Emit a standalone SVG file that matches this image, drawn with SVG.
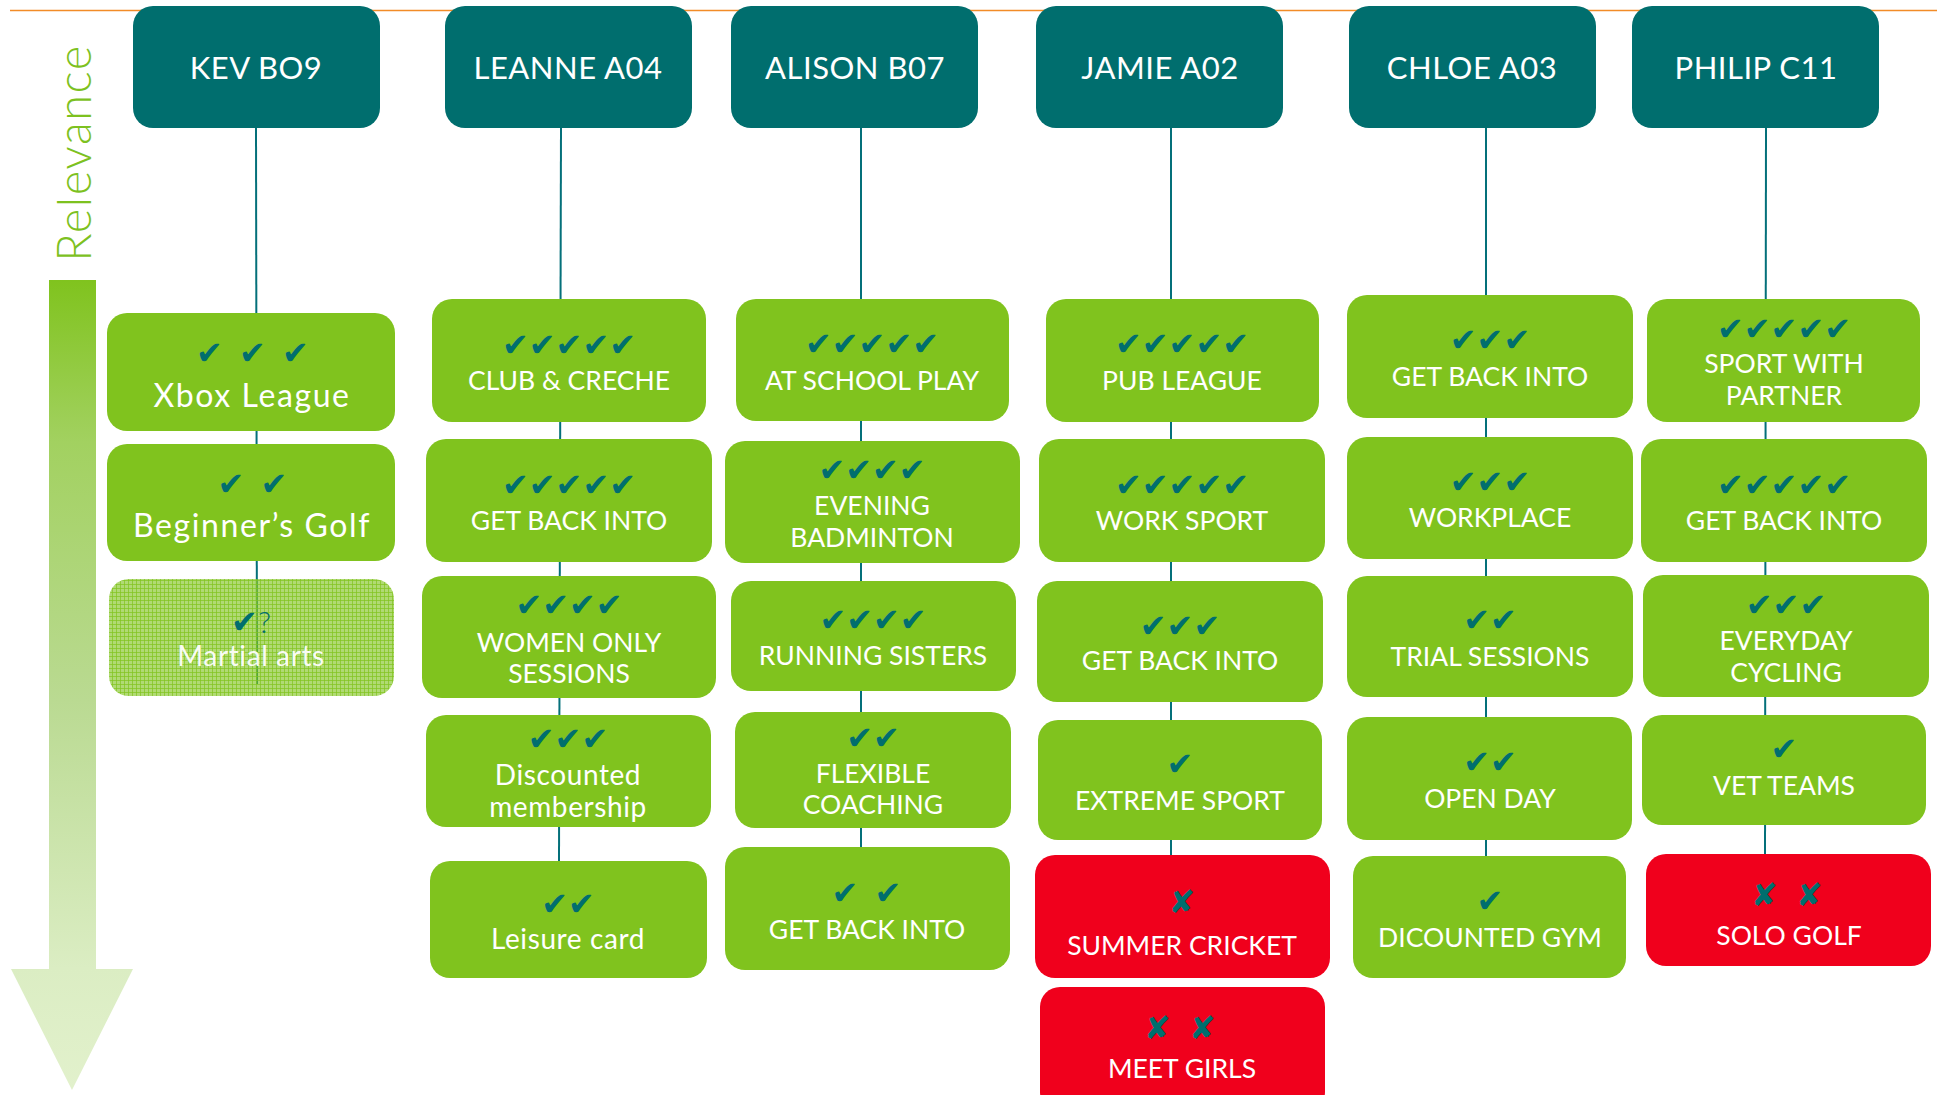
<svg xmlns="http://www.w3.org/2000/svg" width="1937" height="1095" viewBox="0 0 1937 1095">
  <defs>
    <linearGradient id="relevanceFade" x1="0" y1="280" x2="0" y2="1090" gradientUnits="userSpaceOnUse">
      <stop offset="0" stop-color="#80C31E"/>
      <stop offset="0.2" stop-color="#A2D160"/>
      <stop offset="0.52" stop-color="#BADA92"/>
      <stop offset="0.85" stop-color="#DBEDC3"/>
      <stop offset="1" stop-color="#E2F1CC"/>
    </linearGradient>
    <pattern id="tentative" width="4" height="4" patternUnits="userSpaceOnUse">
      <rect width="4" height="4" fill="#80C31E" fill-opacity="0.62"/>
      <path d="M0 0.5H4M0.5 0V4" stroke="#80C31E" stroke-width="1" stroke-opacity="0.7"/>
    </pattern>
    <style>
      .head rect { fill: #006E6E; }
      .head text { fill: #FFFFFF; font-family: Lato, "Open Sans", sans-serif; font-size: 31px; letter-spacing: 0.5px; text-anchor: middle; }
      .opt { fill: #80C31E; }
      .no { fill: #F0001C; }
      .maybe { fill: url(#tentative); }
      .chk { fill: #006E6E; font-family: "DejaVu Sans", sans-serif; font-size: 32px; text-anchor: middle; }
      .lbl { fill: #FFFFFF; font-family: Lato, "Open Sans", sans-serif; font-size: 26.5px; text-anchor: middle; }
      .lbl-mixed { fill: #FFFFFF; font-family: Lato, "Open Sans", sans-serif; font-size: 28px; text-anchor: middle; letter-spacing: 0.6px; }
      .lbl-big { fill: #FFFFFF; font-family: Lato, "Open Sans", sans-serif; font-size: 32px; text-anchor: middle; letter-spacing: 1.6px; }
      .link { stroke: #04707A; stroke-width: 2; fill: none; }
    </style>
  </defs>

  <rect width="1937" height="1095" fill="#FFFFFF"/>

  <!-- rule across the top -->
  <line x1="10" y1="10.5" x2="1937" y2="10.5" stroke="#F28C28" stroke-width="1.5"/>

  <!-- relevance scale -->
  <g id="relevance-scale">
    <polygon points="49,280 96,280 96,969 133,969 72,1090 11,969 49,969" fill="url(#relevanceFade)"/>
    <text transform="translate(91,153) rotate(-90)" x="0" y="0" fill="#7DC11F" font-family="Lato, 'Open Sans', sans-serif" font-size="47" font-weight="300" letter-spacing="1.5" text-anchor="middle">Relevance</text>
  </g>

  <!-- connectors: one spine per person -->
  <g id="connectors">
    <line class="link" x1="256" y1="128" x2="257" y2="684"/>
    <line class="link" x1="561" y1="128" x2="559" y2="862"/>
    <line class="link" x1="861" y1="128" x2="861" y2="848"/>
    <line class="link" x1="1171" y1="128" x2="1171" y2="856"/>
    <line class="link" x1="1486" y1="128" x2="1486" y2="857"/>
    <line class="link" x1="1766" y1="128" x2="1765" y2="855"/>
  </g>

  <!-- people -->
  <g id="p-kev" class="head"><rect x="133" y="6" width="247" height="122" rx="20"/><text x="256" y="79">KEV BO9</text></g>
  <g id="p-leanne" class="head"><rect x="445" y="6" width="247" height="122" rx="20"/><text x="568" y="79">LEANNE A04</text></g>
  <g id="p-alison" class="head"><rect x="731" y="6" width="247" height="122" rx="20"/><text x="855" y="79">ALISON B07</text></g>
  <g id="p-jamie" class="head"><rect x="1036" y="6" width="247" height="122" rx="20"/><text x="1160" y="79">JAMIE A02</text></g>
  <g id="p-chloe" class="head"><rect x="1349" y="6" width="247" height="122" rx="20"/><text x="1472" y="79">CHLOE A03</text></g>
  <g id="p-philip" class="head"><rect x="1632" y="6" width="247" height="122" rx="20"/><text x="1756" y="79">PHILIP C11</text></g>

  <!-- KEV -->
  <g id="kev-xbox">
    <rect class="opt" x="107" y="313" width="288" height="118" rx="20"/>
    <text class="chk" x="254" y="364" letter-spacing="3">✔&#160;✔&#160;✔</text>
    <text class="lbl-big" x="252" y="407">Xbox League</text>
  </g>
  <g id="kev-golf">
    <rect class="opt" x="107" y="444" width="288" height="117" rx="20"/>
    <text class="chk" x="254" y="495" letter-spacing="3">✔&#160;✔</text>
    <text class="lbl-big" x="252" y="537">Beginner’s Golf</text>
  </g>
  <g id="kev-martial">
    <rect class="maybe" x="109" y="579" width="285" height="117" rx="20"/>
    <text class="chk" x="251" y="633">✔<tspan font-family="Lato, sans-serif" font-size="30" font-weight="300">?</tspan></text>
    <text class="lbl-mixed" x="251" y="666" font-size="27" fill-opacity="0.95">Martial arts</text>
  </g>

  <!-- LEANNE -->
  <g id="leanne-club">
    <rect class="opt" x="432" y="299" width="274" height="123" rx="20"/>
    <text class="chk" x="569" y="356">✔✔✔✔✔</text>
    <text class="lbl" x="569" y="390">CLUB &amp; CRECHE</text>
  </g>
  <g id="leanne-getback">
    <rect class="opt" x="426" y="439" width="286" height="123" rx="20"/>
    <text class="chk" x="569" y="496">✔✔✔✔✔</text>
    <text class="lbl" x="569" y="530">GET BACK INTO</text>
  </g>
  <g id="leanne-women">
    <rect class="opt" x="422" y="576" width="294" height="122" rx="20"/>
    <text class="chk" x="569" y="616">✔✔✔✔</text>
    <text class="lbl" x="569" y="652">WOMEN ONLY</text>
    <text class="lbl" x="569" y="683">SESSIONS</text>
  </g>
  <g id="leanne-discount">
    <rect class="opt" x="426" y="715" width="285" height="112" rx="20"/>
    <text class="chk" x="568" y="750">✔✔✔</text>
    <text class="lbl-mixed" x="568" y="785">Discounted</text>
    <text class="lbl-mixed" x="568" y="817">membership</text>
  </g>
  <g id="leanne-leisure">
    <rect class="opt" x="430" y="861" width="277" height="117" rx="20"/>
    <text class="chk" x="568" y="915">✔✔</text>
    <text class="lbl-mixed" x="568" y="949">Leisure card</text>
  </g>

  <!-- ALISON -->
  <g id="alison-school">
    <rect class="opt" x="736" y="299" width="273" height="122" rx="20"/>
    <text class="chk" x="872" y="355">✔✔✔✔✔</text>
    <text class="lbl" x="872" y="390">AT SCHOOL PLAY</text>
  </g>
  <g id="alison-badminton">
    <rect class="opt" x="725" y="441" width="295" height="122" rx="20"/>
    <text class="chk" x="872" y="481">✔✔✔✔</text>
    <text class="lbl" x="872" y="515">EVENING</text>
    <text class="lbl" x="872" y="547">BADMINTON</text>
  </g>
  <g id="alison-running">
    <rect class="opt" x="731" y="581" width="285" height="110" rx="20"/>
    <text class="chk" x="873" y="631">✔✔✔✔</text>
    <text class="lbl" x="873" y="665">RUNNING SISTERS</text>
  </g>
  <g id="alison-coaching">
    <rect class="opt" x="735" y="712" width="276" height="116" rx="20"/>
    <text class="chk" x="873" y="749">✔✔</text>
    <text class="lbl" x="873" y="783">FLEXIBLE</text>
    <text class="lbl" x="873" y="814">COACHING</text>
  </g>
  <g id="alison-getback">
    <rect class="opt" x="725" y="847" width="285" height="123" rx="20"/>
    <text class="chk" x="868" y="904" letter-spacing="3">✔&#160;✔</text>
    <text class="lbl" x="867" y="939">GET BACK INTO</text>
  </g>

  <!-- JAMIE -->
  <g id="jamie-pub">
    <rect class="opt" x="1046" y="299" width="273" height="123" rx="20"/>
    <text class="chk" x="1182" y="355">✔✔✔✔✔</text>
    <text class="lbl" x="1182" y="390">PUB LEAGUE</text>
  </g>
  <g id="jamie-work">
    <rect class="opt" x="1039" y="439" width="286" height="123" rx="20"/>
    <text class="chk" x="1182" y="496">✔✔✔✔✔</text>
    <text class="lbl" x="1182" y="530">WORK SPORT</text>
  </g>
  <g id="jamie-getback">
    <rect class="opt" x="1037" y="581" width="286" height="121" rx="20"/>
    <text class="chk" x="1180" y="637">✔✔✔</text>
    <text class="lbl" x="1180" y="670">GET BACK INTO</text>
  </g>
  <g id="jamie-extreme">
    <rect class="opt" x="1038" y="720" width="284" height="120" rx="20"/>
    <text class="chk" x="1180" y="775">✔</text>
    <text class="lbl" x="1180" y="810">EXTREME SPORT</text>
  </g>
  <g id="jamie-cricket">
    <rect class="no" x="1035" y="855" width="295" height="123" rx="20"/>
    <text class="chk" x="1182" y="913" font-size="27">✘</text>
    <text class="lbl" x="1182" y="955">SUMMER CRICKET</text>
  </g>
  <g id="jamie-girls">
    <rect class="no" x="1040" y="987" width="285" height="125" rx="20"/>
    <text class="chk" x="1182" y="1039" font-size="27" letter-spacing="4">✘&#160;✘</text>
    <text class="lbl" x="1182" y="1078">MEET GIRLS</text>
  </g>

  <!-- CHLOE -->
  <g id="chloe-getback">
    <rect class="opt" x="1347" y="295" width="286" height="123" rx="20"/>
    <text class="chk" x="1490" y="351">✔✔✔</text>
    <text class="lbl" x="1490" y="386">GET BACK INTO</text>
  </g>
  <g id="chloe-workplace">
    <rect class="opt" x="1347" y="437" width="286" height="122" rx="20"/>
    <text class="chk" x="1490" y="493">✔✔✔</text>
    <text class="lbl" x="1490" y="527">WORKPLACE</text>
  </g>
  <g id="chloe-trial">
    <rect class="opt" x="1347" y="576" width="286" height="121" rx="20"/>
    <text class="chk" x="1490" y="631">✔✔</text>
    <text class="lbl" x="1490" y="666">TRIAL SESSIONS</text>
  </g>
  <g id="chloe-open">
    <rect class="opt" x="1347" y="717" width="285" height="123" rx="20"/>
    <text class="chk" x="1490" y="773">✔✔</text>
    <text class="lbl" x="1490" y="808">OPEN DAY</text>
  </g>
  <g id="chloe-gym">
    <rect class="opt" x="1353" y="856" width="273" height="122" rx="20"/>
    <text class="chk" x="1490" y="912">✔</text>
    <text class="lbl" x="1490" y="947">DICOUNTED GYM</text>
  </g>

  <!-- PHILIP -->
  <g id="philip-partner">
    <rect class="opt" x="1647" y="299" width="273" height="123" rx="20"/>
    <text class="chk" x="1784" y="340">✔✔✔✔✔</text>
    <text class="lbl" x="1784" y="373">SPORT WITH</text>
    <text class="lbl" x="1784" y="405">PARTNER</text>
  </g>
  <g id="philip-getback">
    <rect class="opt" x="1641" y="439" width="286" height="123" rx="20"/>
    <text class="chk" x="1784" y="496">✔✔✔✔✔</text>
    <text class="lbl" x="1784" y="530">GET BACK INTO</text>
  </g>
  <g id="philip-cycling">
    <rect class="opt" x="1643" y="575" width="286" height="122" rx="20"/>
    <text class="chk" x="1786" y="616">✔✔✔</text>
    <text class="lbl" x="1786" y="650">EVERYDAY</text>
    <text class="lbl" x="1786" y="682">CYCLING</text>
  </g>
  <g id="philip-vet">
    <rect class="opt" x="1642" y="715" width="284" height="110" rx="20"/>
    <text class="chk" x="1784" y="760">✔</text>
    <text class="lbl" x="1784" y="795">VET TEAMS</text>
  </g>
  <g id="philip-solo">
    <rect class="no" x="1646" y="854" width="285" height="112" rx="20"/>
    <text class="chk" x="1789" y="906" font-size="27" letter-spacing="4">✘&#160;✘</text>
    <text class="lbl" x="1789" y="945">SOLO GOLF</text>
  </g>
</svg>
